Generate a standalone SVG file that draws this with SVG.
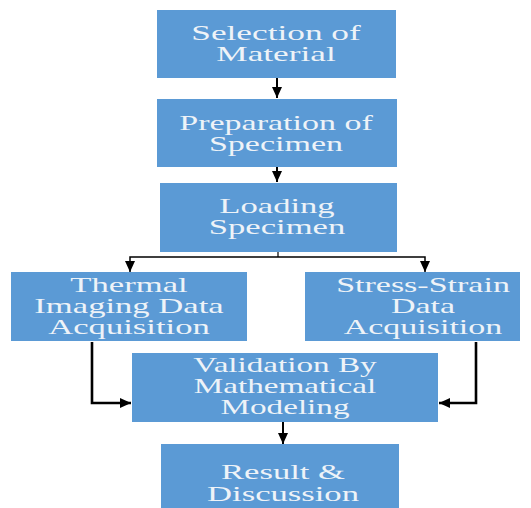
<svg xmlns="http://www.w3.org/2000/svg" width="531" height="508" viewBox="0 0 531 508">
<defs>
<marker id="ah" markerUnits="userSpaceOnUse" markerWidth="12" markerHeight="12" viewBox="0 0 12 12" refX="11" refY="6" orient="auto">
<path d="M0,1 L11,6 L0,11 Z" fill="#000"/>
</marker>
<style>
.box{fill:#5B9AD5;}
.t{font-family:"Liberation Serif","Times New Roman",serif;font-size:21px;fill:#EEF3F8;text-anchor:middle;}
.c{fill:none;stroke:#000;stroke-width:2;}
.ct{fill:none;stroke:#000;stroke-width:2.6;}
</style>
</defs>
<rect width="531" height="508" fill="#fff"/>
<g id="connectors">
<path class="c" d="M277,78 V98" marker-end="url(#ah)"/>
<path class="c" d="M277,167 V182" marker-end="url(#ah)"/>
<path class="c" d="M278,252 V257" style="stroke-width:1.2"/>
<path class="c" d="M278,257 H130 V272" style="stroke-width:1.5" marker-end="url(#ah)"/>
<path class="c" d="M278,257 H425 V272" style="stroke-width:1.5" marker-end="url(#ah)"/>
<path class="ct" d="M92,342 V403 H131" marker-end="url(#ah)"/>
<path class="ct" d="M476,342 V403 H439" marker-end="url(#ah)"/>
<path class="c" d="M283,422 V444" marker-end="url(#ah)"/>
</g>
<g id="n1">
<rect class="box" x="157" y="10" width="239" height="68"/>
<g transform="translate(276 0) scale(1.68 1)"><text class="t" x="0" y="40">Selection of</text><text class="t" x="0" y="61">Material</text></g>
</g>
<g id="n2">
<rect class="box" x="157" y="99" width="240" height="68"/>
<g transform="translate(276 0) scale(1.62 1)"><text class="t" x="0" y="130">Preparation of</text><text class="t" x="0" y="151">Specimen</text></g>
</g>
<g id="n3">
<rect class="box" x="160" y="183" width="237" height="69"/>
<g transform="translate(277 0) scale(1.65 1)"><text class="t" x="0" y="213">Loading</text><text class="t" x="0" y="234">Specimen</text></g>
</g>
<g id="n4">
<rect class="box" x="11" y="272" width="236" height="69"/>
<g transform="translate(129 0) scale(1.65 1)"><text class="t" x="0" y="292">Thermal</text><text class="t" x="0" y="313">Imaging Data</text><text class="t" x="0" y="334">Acquisition</text></g>
</g>
<g id="n5">
<rect class="box" x="305" y="272" width="215" height="69"/>
<g transform="translate(423 0) scale(1.62 1)"><text class="t" x="0" y="292">Stress-Strain</text><text class="t" x="0" y="313">Data</text><text class="t" x="0" y="334">Acquisition</text></g>
</g>
<g id="n6">
<rect class="box" x="132" y="353" width="306" height="69"/>
<g transform="translate(285 0) scale(1.58 1)"><text class="t" x="0" y="372">Validation By</text><text class="t" x="0" y="393">Mathematical</text><text class="t" x="0" y="414">Modeling</text></g>
</g>
<g id="n7">
<rect class="box" x="161" y="444" width="238" height="64"/>
<g transform="translate(283 0) scale(1.65 1)"><text class="t" x="0" y="479">Result &amp;</text><text class="t" x="0" y="501">Discussion</text></g>
</g>
</svg>
